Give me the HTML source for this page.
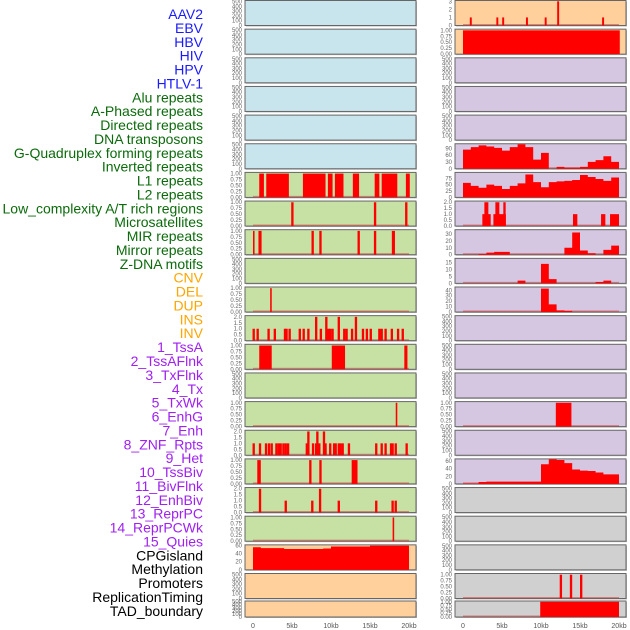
<!DOCTYPE html>
<html><head><meta charset="utf-8">
<style>
html,body{margin:0;padding:0;background:#fff;}
svg{display:block;}
text{font-family:"Liberation Sans",sans-serif;}
</style></head><body>
<svg id="c" width="630" height="630" viewBox="0 0 630 630"></svg>
<script>
// ---------- data ----------
const labelNames = ["AAV2","EBV","HBV","HIV","HPV","HTLV-1","Alu repeats","A-Phased repeats","Directed repeats","DNA transposons","G-Quadruplex forming repeats","Inverted repeats","L1 repeats","L2 repeats","Low_complexity A/T rich regions","Microsatellites","MIR repeats","Mirror repeats","Z-DNA motifs","CNV","DEL","DUP","INS","INV","1_TssA","2_TssAFlnk","3_TxFlnk","4_Tx","5_TxWk","6_EnhG","7_Enh","8_ZNF_Rpts","9_Het","10_TssBiv","11_BivFlnk","12_EnhBiv","13_ReprPC","14_ReprPCWk","15_Quies","CPGisland","Methylation","Promoters","ReplicationTiming","TAD_boundary"];
const labelColors = ["#1a1aff","#1a1aff","#1a1aff","#1a1aff","#1a1aff","#1a1aff","#0b6b0b","#0b6b0b","#0b6b0b","#0b6b0b","#0b6b0b","#0b6b0b","#0b6b0b","#0b6b0b","#0b6b0b","#0b6b0b","#0b6b0b","#0b6b0b","#0b6b0b","#ffa500","#ffa500","#ffa500","#ffa500","#ffa500","#a020f0","#a020f0","#a020f0","#a020f0","#a020f0","#a020f0","#a020f0","#a020f0","#a020f0","#a020f0","#a020f0","#a020f0","#a020f0","#a020f0","#a020f0","#000","#000","#000","#000","#000"];
const xTickValues = [0,5,10,15,20];
const xTickLabels = ["0","5kb","10kb","15kb","20kb"];

// left column tracks
const leftRow6Spans = [[0.8,1.4],[1.7,4.6],[6.4,9.3],[9.6,10.2],[10.5,11.6],[12.8,13.6],[15.6,16.2],[16.5,18.5],[19.6,20.1]];
const leftRow7Spans = [[4.9,5.2],[15.5,15.8],[19.5,19.8]];
const leftRow8Spans = [[0,0.2],[0.7,1.1],[7.5,7.8],[8.5,8.8],[13.4,13.7],[15.5,15.8],[17.8,18.2]];
const leftRow10Spans = [[2.2,2.4]];
const leftRow11Pos = [0.09,0.6,2.0,2.8,4.1,4.3,4.7,6.0,6.5,7.1,8.1,8.7,9.4,9.7,9.9,10.2,11.0,11.7,12.0,12.7,13.2,14.1,14.6,15.1,16.2,16.5,17.0,17.8,18.6,19.2];
const leftRow11Val = [1,1,1,1,1,1,1,1,1,1,2,1,2,1,1,1,2,1,1,1,2,1,1,1,1,1,1,1,1,1];
const leftRow12Spans = [[0.8,2.4],[10.1,11.8],[19.4,19.8]];
const leftRow14Spans = [[18.3,18.5]];
const leftRow15Pos = [0.09,0.9,1.67,2.05,2.4,3.0,3.3,3.55,3.9,4.2,4.5,6.9,7.1,7.7,8.1,8.25,8.5,9.1,9.3,9.9,10.4,10.6,11.0,11.2,11.5,12.3,15.8,16.5,17.0,17.7,17.9,18.3,19.7];
const leftRow15Val = [1,1,1,1,1,1,1,1,1,1,1,1,2,1,1,2,1,2,1,1,1,1,1,1,1,1,1,1,1,1,1,1,1];
const leftRow16Spans = [[0.55,1.0],[7.2,7.5],[8.5,8.8],[12.65,13.4]];
const leftRow17Pos = [0.9,4.2,7.6,8.6,11.0,15.8,17.9,18.3];
const leftRow17Val = [2,1,1,2,1,1,1,1];
const leftRow18Spans = [[17.9,18.1]];
const leftRow19Bins = [55,53,53,53,51,51,51,51,51,52,57,57,57,57,57,59,59,59,59,59];

// right column tracks
const rightRow0Pos = [1.0,4.4,5.15,8.2,10.6,12.2,17.96];
const rightRow0Val = [1,1,1,1,1,3,1];
const rightRow1Spans = [[0,20.1]];
const rightRow5Bins = [84,95,103,98,92,80,95,108,95,40,70,0,8,5,5,8,30,38,55,30];
const rightRow6Bins = [57,45,38,50,45,33,45,55,90,60,40,60,63,65,68,88,80,72,65,78];
const rightRow7Spans = [[2.48,3.55],[3.9,5.5],[14.1,14.66],[17.7,18.25],[18.85,20.0]];
const rightRow7Val = [1,1,1,1,1];
const rightRow7Peaks = [[2.74,3.25],[4.15,4.66],[5.17,5.47]];
const rightRow8Bins = [0,0,1,3,4,4,0,0,0,0,0,0,0,10,32,6,2,0,7,13];
const rightRow9Bins = [0,0,0,0,0,0,0,2,0,0,14,3,0,0,0,0,0,1,2,0];
const rightRow10Bins = [0,0,0,0,0,0,0,0,0,0,43,14,3,2,0,0,0,0,0,0];
const rightRow14Spans = [[11.9,13.9]];
const rightRow16Bins = [1,1,5,6,6,6,6,6,6,6,52,65,63,55,38,35,34,30,25,25];
const rightRow20Spans = [[12.4,12.7],[13.7,14.0],[15.0,15.3]];
const rightRow21Spans = [[9.9,20.0]];

// ---------- geometry ----------
const svg = document.getElementById('c');
const NS = 'http://www.w3.org/2000/svg';
const ROWS = 22, ROW_STEP = 28.65, ROW_H = 25;
function rowTop(i){ return i===21 ? 601 : 0.5 + ROW_STEP*i; }
function rowH(i){ return i===21 ? 16 : ROW_H; }
const COL = { L:{left:245,right:416,x0:253}, R:{left:455,right:626,x0:463} };
const KB = 7.8;
function xs(col,kb){ return COL[col].x0 + KB*kb; }
function ys(i,v,ymax){ return rowTop(i)+rowH(i) - v/ymax*rowH(i); }
function el(tag,attrs,parent){
  const e=document.createElementNS(NS,tag);
  for(const k in attrs) e.setAttribute(k,attrs[k]);
  (parent||svg).appendChild(e); return e;
}
const leftFill = i => i<=5 ? '#c8e4ec' : (i<=18 ? '#c7e0a4' : '#ffd09c');
const rightFill = i => i<=1 ? '#ffd09c' : (i<=16 ? '#d5c6e2' : '#d0d0d0');

// track specs: [type, ticks, ymax, data...]
const emptyTicks = [[0,"0"],[100,"100"],[200,"200"],[300,"300"],[400,"400"],[500,"500"]];
const binTicks = [[0,"0.00"],[0.25,"0.25"],[0.5,"0.50"],[0.75,"0.75"],[1,"1.00"]];
const cntTicks = [[0,"0.0"],[0.5,"0.5"],[1,"1.0"],[1.5,"1.5"],[2,"2.0"]];
const E = {type:'empty',ticks:emptyTicks,ymax:520};
const leftTracks = [];
for(let i=0;i<ROWS;i++) leftTracks.push(E);
leftTracks[6]={type:'spans',ticks:binTicks,ymax:1.05,spans:leftRow6Spans};
leftTracks[7]={type:'spans',ticks:binTicks,ymax:1.05,spans:leftRow7Spans};
leftTracks[8]={type:'spans',ticks:binTicks,ymax:1.05,spans:leftRow8Spans};
leftTracks[10]={type:'spans',ticks:binTicks,ymax:1.05,spans:leftRow10Spans};
leftTracks[11]={type:'counts',ticks:cntTicks,ymax:2.1,pos:leftRow11Pos,val:leftRow11Val};
leftTracks[12]={type:'spans',ticks:binTicks,ymax:1.05,spans:leftRow12Spans};
leftTracks[14]={type:'spans',ticks:binTicks,ymax:1.05,spans:leftRow14Spans};
leftTracks[15]={type:'counts',ticks:cntTicks,ymax:2.1,pos:leftRow15Pos,val:leftRow15Val};
leftTracks[16]={type:'spans',ticks:binTicks,ymax:1.05,spans:leftRow16Spans};
leftTracks[17]={type:'counts',ticks:cntTicks,ymax:2.1,pos:leftRow17Pos,val:leftRow17Val};
leftTracks[18]={type:'spans',ticks:binTicks,ymax:1.05,spans:leftRow18Spans};
leftTracks[19]={type:'area',ticks:[[0,"0"],[20,"20"],[40,"40"],[60,"60"]],ymax:61,bins:leftRow19Bins};

const rightTracks = [];
for(let i=0;i<ROWS;i++) rightTracks.push(E);
rightTracks[0]={type:'counts',ticks:[[0,"0"],[1,"1"],[2,"2"],[3,"3"]],ymax:3.1,pos:rightRow0Pos,val:rightRow0Val,w:0.25};
rightTracks[1]={type:'spans',ticks:binTicks,ymax:1.05,spans:rightRow1Spans};
rightTracks[5]={type:'area',ticks:[[0,"0"],[30,"30"],[60,"60"],[90,"90"]],ymax:110,bins:rightRow5Bins};
rightTracks[6]={type:'area',ticks:[[0,"0"],[25,"25"],[50,"50"],[75,"75"]],ymax:98,bins:rightRow6Bins};
rightTracks[7]={type:'blocks',ticks:cntTicks,ymax:2.1,spans:rightRow7Spans,val:rightRow7Val,peaks:rightRow7Peaks};
rightTracks[8]={type:'area',ticks:[[0,"0"],[10,"10"],[20,"20"],[30,"30"]],ymax:36,bins:rightRow8Bins};
rightTracks[9]={type:'area',ticks:[[0,"0"],[5,"5"],[10,"10"],[15,"15"]],ymax:18,bins:rightRow9Bins};
rightTracks[10]={type:'area',ticks:[[0,"0"],[10,"10"],[20,"20"],[30,"30"],[40,"40"]],ymax:46,bins:rightRow10Bins};
rightTracks[14]={type:'spans',ticks:binTicks,ymax:1.05,spans:rightRow14Spans};
rightTracks[16]={type:'area',ticks:[[0,"0"],[20,"20"],[40,"40"],[60,"60"]],ymax:66,bins:rightRow16Bins};
rightTracks[20]={type:'spans',ticks:binTicks,ymax:1.05,spans:rightRow20Spans};
rightTracks[21]={type:'spans',ticks:binTicks,ymax:1.05,spans:rightRow21Spans};

function drawPanel(col,i,t,fill){
  const c=COL[col], top=rowTop(i), h=rowH(i);
  const g=el('g',{});
  
  
  el('rect',{x:c.left+1,y:top+1,width:c.right-c.left,height:h,fill:'#bbb'},g);
  el('rect',{x:c.left,y:top,width:c.right-c.left,height:h,fill:fill,stroke:'#666','stroke-width':1},g);
  // ticks
  for(const [v,lab] of t.ticks){
    const tx=el('text',{x:c.left-3,y:ys(i,v,t.ymax)+2,'font-size':6,fill:'#666','text-anchor':'end'},g);
    tx.textContent=lab;
    
    
  }
  if(t.type==='empty') return;
  // baseline
  el('rect',{x:xs(col,0),y:top+h-1.5,width:KB*20,height:1.5,fill:'rgba(200,60,60,0.55)'},g);
  const red='#ff0000';
  if(t.type==='spans'){
    for(const [a,b] of t.spans){
      const r=el('rect',{x:xs(col,a),y:ys(i,1,t.ymax),width:Math.max(1.5,xs(col,b)-xs(col,a)),height:ys(i,0,t.ymax)-ys(i,1,t.ymax),fill:red},g);
      
      
    }
  } else if(t.type==='counts'){
    const w=t.w||0.3;
    t.pos.forEach((p,k)=>{
      const r=el('rect',{x:xs(col,p-w/2),y:ys(i,t.val[k],t.ymax),width:KB*w,height:ys(i,0,t.ymax)-ys(i,t.val[k],t.ymax),fill:red},g);
      
      
    });
  } else if(t.type==='blocks'){
    t.spans.forEach(([a,b],k)=>{
      const r=el('rect',{x:xs(col,a),y:ys(i,t.val[k],t.ymax),width:xs(col,b)-xs(col,a),height:ys(i,0,t.ymax)-ys(i,t.val[k],t.ymax),fill:red},g);
      
      
    });
    for(const [a,b] of t.peaks){
      const r=el('rect',{x:xs(col,a),y:ys(i,2,t.ymax),width:xs(col,b)-xs(col,a),height:ys(i,0,t.ymax)-ys(i,2,t.ymax),fill:red},g);
      
      
    }
  } else if(t.type==='area'){
    let d='M'+xs(col,0)+','+ys(i,0,t.ymax);
    t.bins.forEach((v,k)=>{
      d+=' L'+xs(col,k)+','+ys(i,v,t.ymax)+' L'+xs(col,k+1)+','+ys(i,v,t.ymax);
    });
    d+=' L'+xs(col,t.bins.length)+','+ys(i,0,t.ymax)+' Z';
    const p=el('path',{d:d,fill:red},g);
    
    
  }
}
for(let i=0;i<ROWS;i++){
  drawPanel('L',i,leftTracks[i],leftFill(i));
  drawPanel('R',i,rightTracks[i],rightFill(i));
}
// x axes
['L','R'].forEach(col=>{
  xTickValues.forEach((v,k)=>{
    const t=el('text',{x:xs(col,v),y:628,'font-size':7,fill:'#555','text-anchor':'middle'});
    t.textContent=xTickLabels[k];
    
    
  });
});
// row labels
labelNames.forEach((n,k)=>{
  const t=el('text',{x:203,y:19+k*13.88,'font-size':14,fill:labelColors[k],'text-anchor':'end'});
  t.textContent=n;
  
  
});
</script>
</body></html>
